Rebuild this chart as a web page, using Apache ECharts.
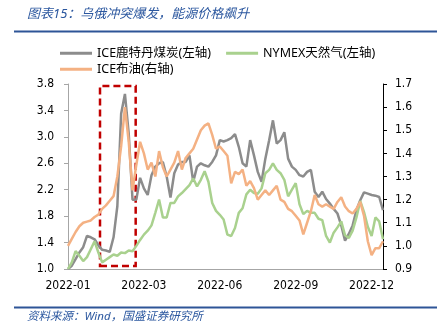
<!DOCTYPE html>
<html>
<head>
<meta charset="utf-8">
<script src="https://cdn.jsdelivr.net/npm/echarts@6/dist/echarts.min.js"></script>
<style>
html,body{margin:0;padding:0;background:#fff;}
#c{width:445px;height:331px;}
</style>
</head>
<body>
<div id="c"></div>
<script>
// trading-day index (x axis)
const days = [0,3,6,9,12,15,18,21,24,27,30,33,36,39,42,45,48,51,54,57,60,63,66,69,72,75,78,81,84,87,90,93,96,99,102,105,108,111,114,117,120,123,126,129,132,135,138,141,144,147,150,153,156,159,162,165,168,171,174,177,180,183,186,189,192,195,198,201,204,207,210,213,216,219,222,225,228,231,234,237,240,243,246,249];
const tickDays = [0,60,120,180,240];
const tickLabels = ['2022-01','2022-03','2022-06','2022-09','2022-12'];

// ICE 鹿特丹煤炭 (left axis)
const coal = [1.00,1.05,1.15,1.25,1.33,1.50,1.48,1.45,1.36,1.29,1.28,1.26,1.48,1.95,3.35,3.65,3.05,2.05,2.05,2.38,
2.22,2.12,2.42,2.55,2.60,2.62,2.40,2.08,2.45,2.58,2.62,2.62,2.72,2.32,2.55,2.60,2.57,2.55,2.62,2.72,
2.95,2.93,2.95,2.98,3.04,2.85,2.60,2.55,2.95,2.72,2.47,2.32,2.67,2.95,3.25,2.90,2.95,3.07,2.67,2.55,
2.50,2.42,2.40,2.47,2.50,2.17,2.09,2.17,2.06,1.99,1.91,1.84,1.66,1.43,1.53,1.66,1.89,2.04,2.16,2.14,
2.12,2.11,2.09,1.89];
// NYMEX 天然气 (left axis)
const gas = [1.00,1.10,1.27,1.20,1.12,1.18,1.30,1.42,1.25,1.10,1.14,1.18,1.22,1.20,1.25,1.24,1.28,1.27,1.35,1.44,
1.52,1.58,1.66,1.85,2.05,1.78,1.78,2.00,2.00,2.10,2.15,2.21,2.27,2.37,2.25,2.35,2.48,2.32,2.00,1.88,
1.82,1.75,1.52,1.50,1.62,1.85,1.92,2.13,2.20,2.15,2.14,2.22,2.45,2.50,2.60,2.50,2.45,2.35,2.10,2.20,
2.30,1.98,1.83,1.88,1.85,1.85,1.76,1.74,1.50,1.40,1.55,1.63,1.72,1.51,1.47,1.58,1.78,2.03,1.86,1.64,
1.50,1.78,1.72,1.45];
// ICE 布油 (right axis)
const brent = [1.00,1.03,1.06,1.085,1.10,1.105,1.11,1.125,1.135,1.16,1.175,1.195,1.215,1.30,1.43,1.60,1.45,1.24,1.35,1.45,
1.40,1.33,1.36,1.30,1.41,1.34,1.30,1.33,1.36,1.41,1.33,1.38,1.40,1.42,1.46,1.50,1.52,1.53,1.48,1.42,
1.43,1.41,1.39,1.27,1.32,1.31,1.33,1.26,1.28,1.25,1.20,1.22,1.24,1.22,1.24,1.26,1.20,1.19,1.16,1.15,
1.13,1.11,1.05,1.10,1.15,1.22,1.18,1.17,1.18,1.17,1.16,1.19,1.21,1.17,1.15,1.14,1.16,1.19,1.13,1.02,
0.96,0.99,0.99,1.02];

// highlighted period box: [startDay, endDay], [low, high] on left axis
const boxDays = [25.3, 53.5];
const boxVals = [1.045, 3.77];

const seriesNames = ['ICE鹿特丹煤炭(左轴)', 'NYMEX天然气(左轴)', 'ICE布油(右轴)'];
const colors = ['#8c8c8c', '#a9d18e', '#f4b183'];

const pair = arr => days.map((d, i) => [d, arr[i]]);
const numFont = "'DejaVu Sans Condensed','Noto Sans',sans-serif";
const cjkFont = "'Noto Sans','Noto Sans CJK SC',sans-serif";

const chart = echarts.init(document.getElementById('c'), null, {renderer: 'canvas'});
chart.setOption({
  animation: false,
  backgroundColor: '#fff',
  title: [{
    text: '图表15：乌俄冲突爆发，能源价格飙升',
    left: 22, top: 3,
    textStyle: {fontSize: 13, fontStyle: 'italic', fontWeight: 'normal', color: '#2b579f', fontFamily: cjkFont}
  }, {
    text: '资料来源：Wind，国盛证券研究所',
    left: 22, top: 306,
    textStyle: {fontSize: 11.5, fontStyle: 'italic', fontWeight: 'normal', color: '#2b579f', fontFamily: cjkFont}
  }],
  graphic: [
    {type: 'line', shape: {x1: 14, y1: 31.5, x2: 437, y2: 31.5}, style: {stroke: '#2e5597', lineWidth: 2}},
    {type: 'line', shape: {x1: 14, y1: 307.5, x2: 437, y2: 307.5}, style: {stroke: '#2e5597', lineWidth: 2}}
  ],
  legend: [{
    data: [seriesNames[0], seriesNames[1]],
    left: 60, top: 47, padding: 0, itemGap: 15, itemWidth: 32, itemHeight: 3, icon: 'rect',
    textStyle: {fontSize: 12.5, color: '#000', fontFamily: cjkFont}
  }, {
    data: [seriesNames[2]],
    left: 60, top: 63, padding: 0, itemWidth: 32, itemHeight: 3, icon: 'rect',
    textStyle: {fontSize: 12.5, color: '#000', fontFamily: cjkFont}
  }],
  grid: {left: 68, right: 62, top: 84, bottom: 62, containLabel: false},
  xAxis: {
    type: 'value', min: 0, max: 249, interval: 60,
    axisLine: {show: true, lineStyle: {color: '#a6a6a6', width: 1}},
    axisTick: {show: false},
    splitLine: {show: false},
    axisLabel: {
      margin: 11, fontSize: 12, color: '#000', fontFamily: numFont,
      showMaxLabel: false,
      formatter: v => { const i = tickDays.indexOf(Math.round(v)); return i >= 0 ? tickLabels[i] : ''; }
    }
  },
  yAxis: [{
    type: 'value', min: 1.0, max: 3.8, interval: 0.4, position: 'left',
    axisLine: {show: true, lineStyle: {color: '#a6a6a6', width: 1}},
    axisTick: {show: true, length: 4, lineStyle: {color: '#a6a6a6'}},
    splitLine: {show: false},
    axisLabel: {margin: 14, fontSize: 12, color: '#000', fontFamily: numFont, formatter: v => v.toFixed(1)}
  }, {
    type: 'value', min: 0.9, max: 1.7, interval: 0.1, position: 'right',
    axisLine: {show: true, lineStyle: {color: '#000', width: 1}},
    axisTick: {show: true, length: 4, lineStyle: {color: '#000'}},
    splitLine: {show: false},
    axisLabel: {margin: 12, fontSize: 12, color: '#000', fontFamily: numFont, formatter: v => v.toFixed(1)}
  }],
  series: [{
    name: seriesNames[0], type: 'line', yAxisIndex: 0, data: pair(coal),
    showSymbol: false, lineStyle: {width: 2.5, color: colors[0]}, itemStyle: {color: colors[0]},
    markArea: {
      silent: true,
      itemStyle: {color: 'rgba(0,0,0,0)', borderColor: '#c00000', borderWidth: 2.5, borderType: [7, 4]},
      data: [[{xAxis: boxDays[0], yAxis: boxVals[0]}, {xAxis: boxDays[1], yAxis: boxVals[1]}]]
    }
  }, {
    name: seriesNames[1], type: 'line', yAxisIndex: 0, data: pair(gas),
    showSymbol: false, lineStyle: {width: 2.5, color: colors[1]}, itemStyle: {color: colors[1]}
  }, {
    name: seriesNames[2], type: 'line', yAxisIndex: 1, data: pair(brent),
    showSymbol: false, lineStyle: {width: 2.5, color: colors[2]}, itemStyle: {color: colors[2]}
  }]
});
</script>
</body>
</html>
